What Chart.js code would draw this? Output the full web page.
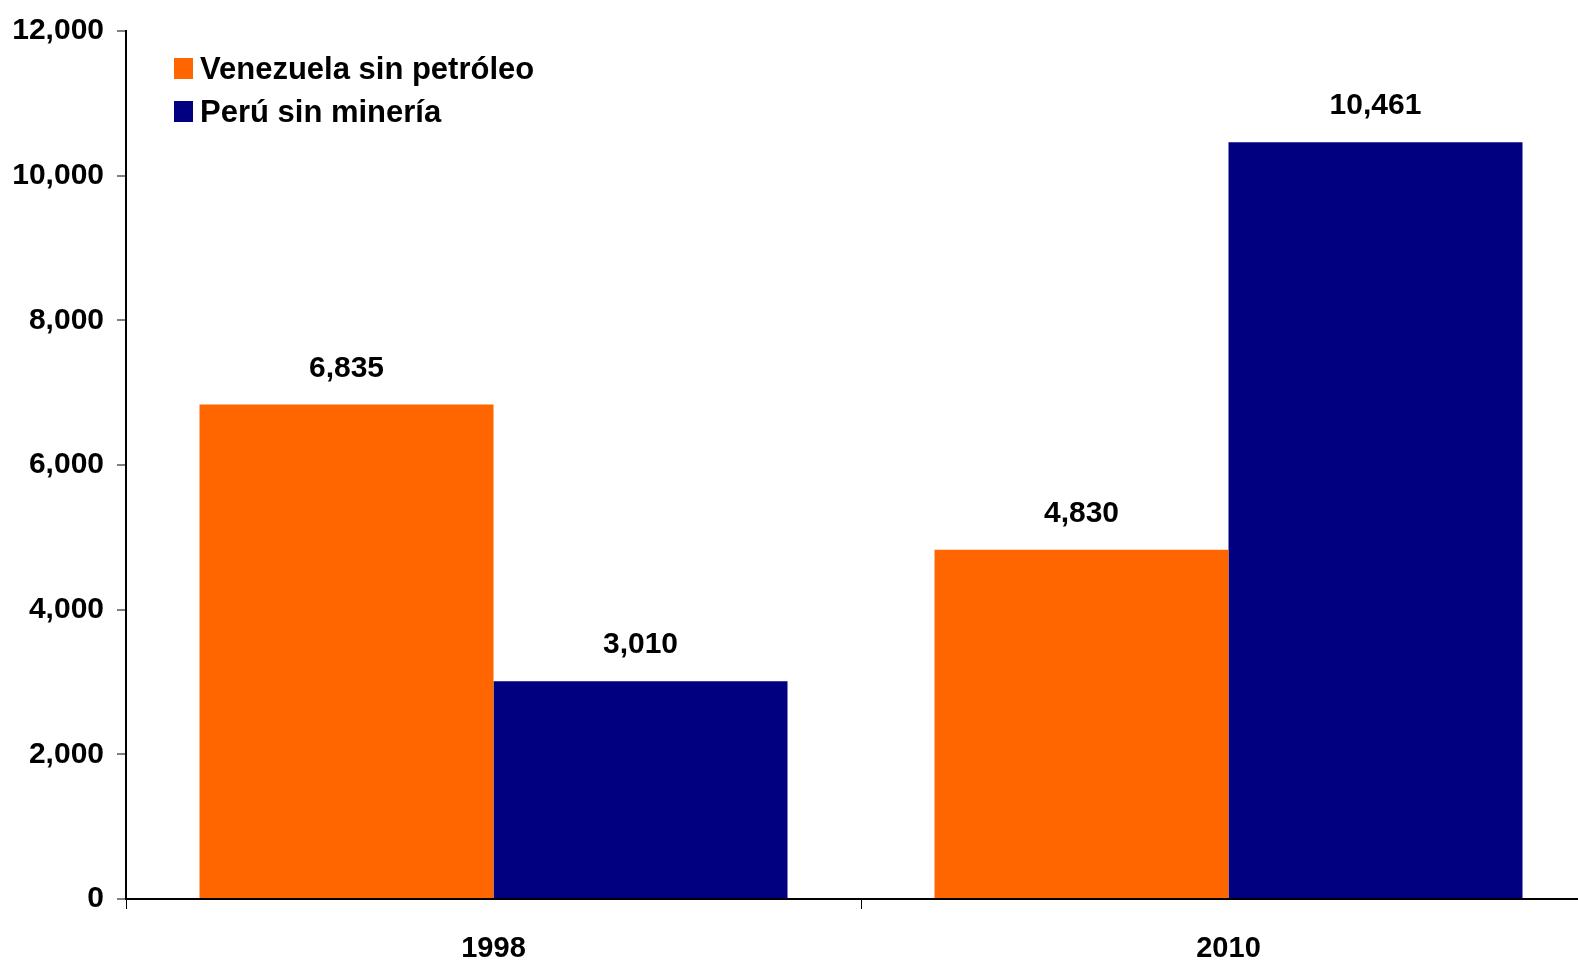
<!DOCTYPE html>
<html>
<head>
<meta charset="utf-8">
<script src="https://cdn.jsdelivr.net/npm/chart.js@4.4.0/dist/chart.umd.min.js"></script>
<style>
  html, body { margin: 0; padding: 0; background: #fff; overflow: hidden; }
  #wrap { width: 1600px; height: 963px; }
</style>
</head>
<body>
<div id="wrap"><canvas id="chart" width="1600" height="963"></canvas></div>
<script>
// chart data
const years = ['1998', '2010'];
const venezuela = [6835, 4830];
const peru = [3010, 10461];
const seriesNames = ['Venezuela sin petróleo', 'Perú sin minería'];
const seriesColors = ['#FF6600', '#000080'];

const FONT = "'Liberation Sans', Arial, sans-serif";

// value labels above the bars
const valueLabels = {
  id: 'valueLabels',
  afterDatasetsDraw(chart) {
    const ctx = chart.ctx;
    ctx.save();
    ctx.font = 'bold 30px ' + FONT;
    ctx.fillStyle = '#000';
    ctx.textAlign = 'center';
    ctx.textBaseline = 'alphabetic';
    chart.data.datasets.forEach((ds, i) => {
      chart.getDatasetMeta(i).data.forEach((bar, j) => {
        ctx.fillText(ds.data[j].toLocaleString('en-US'), bar.x, bar.y - 28);
      });
    });
    ctx.restore();
  }
};

// legend in the top-left corner of the plot
const cornerLegend = {
  id: 'cornerLegend',
  afterDraw(chart) {
    const ctx = chart.ctx;
    ctx.save();
    ctx.font = 'bold 31px ' + FONT;
    ctx.textBaseline = 'alphabetic';
    chart.data.datasets.forEach((ds, i) => {
      const y = 68 + i * 43;
      ctx.fillStyle = ds.backgroundColor;
      ctx.fillRect(174, y - 10, 19, 21);
      ctx.fillStyle = '#000';
      ctx.fillText(ds.label, 200, y + 11);
    });
    ctx.restore();
  }
};

new Chart(document.getElementById('chart'), {
  type: 'bar',
  data: {
    labels: years,
    datasets: [
      { label: seriesNames[0], data: venezuela, backgroundColor: seriesColors[0] },
      { label: seriesNames[1], data: peru, backgroundColor: seriesColors[1] }
    ]
  },
  options: {
    responsive: false,
    animation: false,
    layout: { padding: { top: 21, right: 4, left: 0, bottom: 0 } },
    datasets: { bar: { categoryPercentage: 0.8, barPercentage: 1.0 } },
    plugins: { legend: { display: false }, tooltip: { enabled: false } },
    scales: {
      x: {
        grid: { offset: true, drawOnChartArea: false, drawTicks: true, tickLength: 10, color: '#000', lineWidth: 1 },
        border: { display: true, color: '#000', width: 2 },
        ticks: { color: '#000', padding: 23, font: { family: FONT, size: 29, weight: 'bold' } },
        afterFit(scale) { scale.height = 64; }
      },
      y: {
        min: 0,
        max: 12000,
        grid: { drawOnChartArea: false, drawTicks: true, tickLength: 9, color: '#808080', lineWidth: 2 },
        border: { display: true, color: '#000', width: 2 },
        ticks: {
          stepSize: 2000,
          color: '#000',
          padding: 13,
          font: { family: FONT, size: 30, weight: 'bold' },
          callback: (v) => v.toLocaleString('en-US')
        },
        afterFit(scale) { scale.width = 126; }
      }
    }
  },
  plugins: [valueLabels, cornerLegend]
});
</script>
</body>
</html>
